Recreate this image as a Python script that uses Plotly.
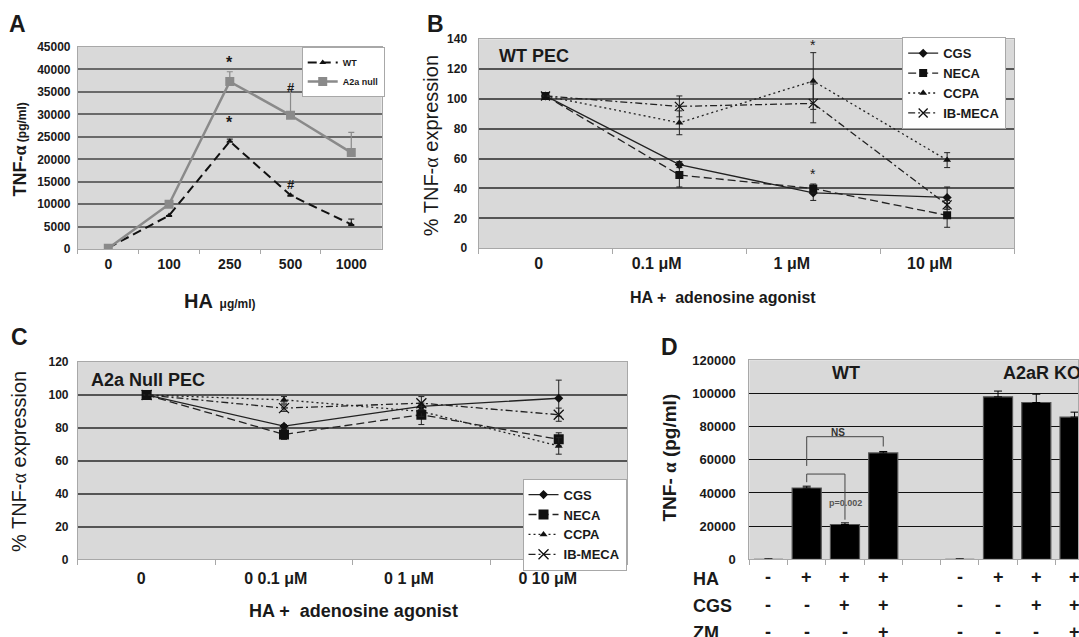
import plotly.graph_objects as go

W, H = 1079, 637
def px(x): return x / W
def py(y): return 1 - y / H

FONT = "Liberation Sans, Arial, sans-serif"
INK = "#1a1a1a"
BG = "#d9d9d9"
EDGE = "#a8a8a8"

# ---------------- Panel A data ----------------
a_doses = ["0", "100", "250", "500", "1000"]
a_wt = [300, 7500, 24000, 12000, 5500]
a_wt_err = [0, 0, 500, 0, 1200]
a_null = [200, 10000, 37300, 29800, 21500]
a_null_err = [0, 0, 2200, 5700, 4500]
# significance marks: (symbol, dose index, y value)
a_marks = [("*", 2, 41500), ("*", 2, 28300), ("#", 3, 36100), ("#", 3, 14400)]

# ---------------- Panel B data ----------------
b_labels = ["0", "0.1 μM", "1 μM", "10 μM"]
b_label_pos = [-0.05, 0.83, 1.84, 2.87]
b_pos = [0, 1, 2, 3]
b_cgs = [102, 56, 37, 34]
b_cgs_err = [0, 2, 5, 7]
b_neca = [102, 49, 40, 22]
b_neca_err = [0, 8, 3, 8]
b_ccpa = [102, 84, 112, 59]
b_ccpa_err = [0, 8, 19, 5]
b_ibmeca = [102, 95, 97, 29]
b_ibmeca_err = [0, 7, 13, 3]
b_marks = [("*", 2, 136), ("*", 2, 50)]

# ---------------- Panel C data ----------------
c_labels = ["0", "0 0.1 μM", "0 1 μM", "0 10 μM"]
c_label_pos = [-0.04, 0.94, 1.91, 2.92]
c_pos = [0, 1, 2, 3]
c_cgs = [100, 81, 93, 98]
c_cgs_err = [0, 1, 2, 11]
c_neca = [100, 76, 88, 73]
c_neca_err = [0, 3, 6, 4]
c_ccpa = [100, 97, 90, 69]
c_ccpa_err = [0, 2, 3, 5]
c_ibmeca = [100, 92, 95, 88]
c_ibmeca_err = [0, 2, 4, 4]

# ---------------- Panel D data ----------------
d_pos = [0, 1, 2, 3, 4, 5, 6, 7, 8]
d_values = [0, 43000, 21000, 64100, None, 0, 97900, 94500, 85700]
d_err = [300, 1100, 1000, 900, 0, 300, 3500, 5000, 3000]
d_ha = ["-", "+", "+", "+", "", "-", "+", "+", "+"]
d_cgs = ["-", "-", "+", "+", "", "-", "-", "+", "+"]
d_zm = ["-", "-", "-", "+", "", "-", "-", "-", "+"]
d_rows = [("HA", d_ha), ("CGS", d_cgs), ("ZM", d_zm)]
# brackets: (left x, left foot, top, right x, right foot)
d_brackets = [(1, 56300, 73900, 3, 68000), (1, 46500, 51400, 2, 23900)]

fig = go.Figure()

# ---- A traces
fig.add_trace(go.Scatter(
    x=a_doses, y=a_wt, name="WT", mode="lines+markers",
    line=dict(color="#111", width=2, dash="9px,5px"),
    marker=dict(symbol="triangle-up", size=6, color="#111"),
    error_y=dict(type="data", symmetric=False, array=a_wt_err, arrayminus=[0]*5,
                 color="#111", thickness=1, width=3),
    xaxis="x", yaxis="y", legend="legend"))
fig.add_trace(go.Scatter(
    x=a_doses, y=a_null, name="A2a null", mode="lines+markers",
    line=dict(color="#8a8a8a", width=2.5),
    marker=dict(symbol="square", size=9, color="#8a8a8a"),
    error_y=dict(type="data", symmetric=False, array=a_null_err, arrayminus=[0]*5,
                 color="#8a8a8a", thickness=1.2, width=3),
    xaxis="x", yaxis="y", legend="legend"))

# ---- B & C traces
def add_series(xs, ys, errs, name, style, xa, ya, lg):
    dash, sym, size = style
    mk = dict(symbol=sym, size=size, color="#111")
    if sym == "x-thin":
        mk["line"] = dict(width=1.3, color="#111")
    fig.add_trace(go.Scatter(
        x=xs, y=ys, name=name, mode="lines+markers",
        line=dict(color="#222", width=1.3, dash=dash),
        marker=mk,
        error_y=dict(type="data", array=errs, color="#222", thickness=1, width=3),
        xaxis=xa, yaxis=ya, legend=lg))

styles_b = {"CGS": ("solid", "diamond", 7), "NECA": ("8px,4px", "square", 8),
            "CCPA": ("2px,3px", "triangle-up", 7), "IB-MECA": ("7px,3px,2px,3px", "x-thin", 9)}
styles_c = {"CGS": ("solid", "diamond", 7), "NECA": ("8px,4px", "square", 10),
            "CCPA": ("2px,3px", "triangle-up", 7), "IB-MECA": ("7px,3px,2px,3px", "x-thin", 10)}

for name, ys, es in [("CGS", b_cgs, b_cgs_err), ("NECA", b_neca, b_neca_err),
                     ("CCPA", b_ccpa, b_ccpa_err), ("IB-MECA", b_ibmeca, b_ibmeca_err)]:
    add_series(b_pos, ys, es, name, styles_b[name], "x2", "y2", "legend2")
for name, ys, es in [("CGS", c_cgs, c_cgs_err), ("NECA", c_neca, c_neca_err),
                     ("CCPA", c_ccpa, c_ccpa_err), ("IB-MECA", c_ibmeca, c_ibmeca_err)]:
    add_series(c_pos, ys, es, name, styles_c[name], "x3", "y3", "legend3")

# ---- D bars
fig.add_trace(go.Bar(
    x=d_pos, y=d_values, width=0.76, showlegend=False,
    marker=dict(color="#000", line=dict(color="#555", width=1.2)),
    error_y=dict(type="data", symmetric=False, array=d_err, arrayminus=[0]*9,
                 color="#000", thickness=1, width=4),
    xaxis="x4", yaxis="y4"))

def tick_font(s):
    return dict(family=FONT, size=s, color=INK, weight="bold")

def yax(dom, rng, dt, size, standoff, anchor, grid="#5a5a5a", gw=1.5):
    return dict(domain=[py(dom[1]), py(dom[0])], range=rng, dtick=dt, tickformat="d",
                showgrid=True, gridcolor=grid, gridwidth=gw, zeroline=False,
                showline=True, mirror=True, linecolor=EDGE, linewidth=1,
                ticks="", tickfont=tick_font(size), ticklabelstandoff=standoff,
                anchor=anchor, fixedrange=True)

def xcat(dom, anchor, labels, pos, fsize, nb, standoff):
    return dict(domain=[px(dom[0]), px(dom[1])], range=[-0.5, nb - 0.5],
                tickmode="array", tickvals=pos, ticktext=labels, ticks="",
                minor=dict(tickmode="array", tickvals=[-0.5 + i for i in range(nb + 1)],
                           ticks="outside", ticklen=5, tickcolor=EDGE, showgrid=False),
                showgrid=False, zeroline=False, showline=True, mirror=True,
                linecolor=EDGE, tickfont=tick_font(fsize), ticklabelstandoff=standoff,
                anchor=anchor, fixedrange=True)

def legend_box(x, y, size):
    return dict(x=px(x), y=py(y), xanchor="left", yanchor="top",
                bgcolor="white", bordercolor=EDGE, borderwidth=1,
                font=dict(family=FONT, size=size, color=INK, weight="bold"),
                tracegroupgap=0)

fig.update_layout(
    width=W, height=H, margin=dict(l=0, r=0, t=0, b=0), autosize=False,
    paper_bgcolor="white", plot_bgcolor=BG,
    font=dict(family=FONT, color=INK),
    xaxis=dict(domain=[px(78), px(382)], type="category", range=[-0.5, 4.5],
               tickson="boundaries", ticks="outside", ticklen=4, tickcolor=EDGE,
               showgrid=False, zeroline=False, showline=True, mirror=True,
               linecolor=EDGE, tickfont=tick_font(14), ticklabelstandoff=2,
               anchor="y", fixedrange=True),
    yaxis=yax((41, 248), [0, 45000], 5000, 12, 4, "x", grid="#6a6a6a", gw=1.5),
    xaxis2=xcat((479, 1015), "y2", b_labels, b_label_pos, 16, 4, 1),
    yaxis2=yax((33, 247), [0, 140], 20, 12, 8, "x2", grid="#555", gw=2),
    xaxis3=xcat((78, 628), "y3", c_labels, c_label_pos, 16, 4, 4),
    yaxis3=yax((363.6, 565.8), [0, 120], 20, 12, 6, "x3", grid="#555", gw=2),
    xaxis4=dict(domain=[px(750), 1], range=[-0.5, 8.09],
                showticklabels=False, ticks="", tickmode="array", tickvals=[],
                minor=dict(tickmode="array", tickvals=[-0.5 + i for i in range(9)],
                           ticks="outside", ticklen=5, tickcolor=EDGE, showgrid=False),
                showgrid=False, zeroline=False, showline=True, mirror=True,
                linecolor=EDGE, anchor="y4", fixedrange=True),
    yaxis4=yax((361.7, 565.7), [0, 120000], 20000, 13, 10, "x4", grid="#111", gw=1.3),
    legend=legend_box(302, 41, 9),
    legend2=legend_box(903, 31, 13),
    legend3=legend_box(523, 483, 13),
    showlegend=True,
)

ann = []
def note(text, x, y, size, xanchor="center", angle=0, bold=True, color=INK,
         xref="paper", yref="paper"):
    ann.append(dict(text=text, x=x, y=y, xref=xref, yref=yref, showarrow=False,
                    xanchor=xanchor, yanchor="middle", textangle=angle,
                    font=dict(family=FONT, size=size, color=color,
                              weight="bold" if bold else "normal")))

alpha = "<span style='font-family:Liberation Serif'>α</span>"
# panel letters
note("A", px(18), py(17), 23)
note("B", px(436), py(17), 23)
note("C", px(20), py(338), 23)
note("D", px(670), py(348), 23)
# A titles
note("TNF-" + alpha + "<span style='font-size:12px'> (pg/ml)</span>", px(20), py(146), 18, angle=-90)
note("HA<span style='font-size:12px'>  μg/ml)</span>", px(220), py(301), 20)
for t, xc, yv in a_marks:
    note(t, xc, yv, 16 if t == "*" else 13, xref="x", yref="y")
# B titles
note("% TNF-" + alpha + " expression", px(431), py(142), 20, angle=-90, bold=False)
note("HA +  adenosine agonist", px(724), py(298), 16)
note("WT PEC", px(497), py(50), 18, xanchor="left")
for t, xc, yv in b_marks:
    note(t, xc, yv, 14, xref="x2", yref="y2", bold=False)
# C titles
note("% TNF-" + alpha + " expression", px(19), py(465), 20, angle=-90, bold=False)
note("HA +  adenosine agonist", px(354), py(619), 18)
note("A2a Null PEC", px(89), py(382), 18, xanchor="left")
# D titles
note("TNF- " + alpha + " (pg/ml)", px(670), py(461), 19, angle=-90)
note("WT", 2.02, py(375), 18, xref="x4")
note("A2aR KO", 6.07, py(375), 18, xanchor="left", xref="x4")
note("NS", 1.82, 76300, 10, xref="x4", yref="y4", color="#333")
note("p=0.002", 2.02, 33900, 9, xref="x4", yref="y4", color="#555")
row_y = [584, 612, 640]
label_y = [586, 613, 641]
for (lab, syms), ry, ly in zip(d_rows, row_y, label_y):
    note(lab, px(692), py(ly), 18, xanchor="left")
    for xp, s in zip(d_pos, syms):
        if s:
            note(s, xp, py(ry), 18, xref="x4")

shapes = []
for x0, f0, top, x1, f1 in d_brackets:
    shapes.append(dict(type="path", xref="x4", yref="y4",
                       path=f"M {x0},{f0} L {x0},{top} L {x1},{top} L {x1},{f1}",
                       line=dict(color="#444", width=1)))

fig.update_layout(annotations=ann, shapes=shapes)

PAGE_FIX = (
    "var s=document.createElement('style');"
    "s.innerHTML='html,body{margin:0;padding:0;overflow:hidden;width:1079px;height:637px;}"
    "body>div{width:1079px;height:637px;overflow:hidden;line-height:0;}';"
    "document.head.appendChild(s);"
)
fig.write_html("out.html", config={"displayModeBar": False}, post_script=PAGE_FIX)
